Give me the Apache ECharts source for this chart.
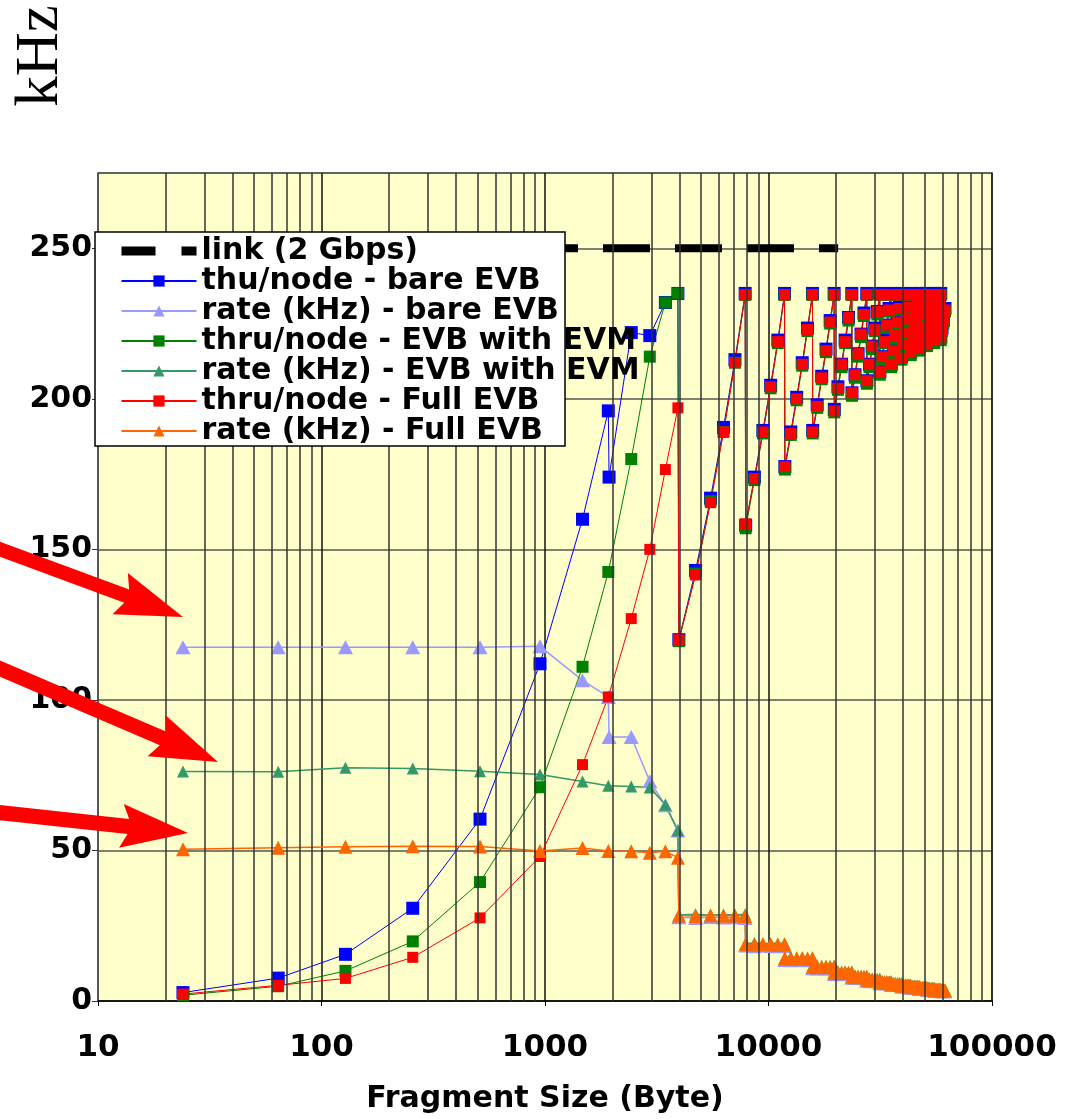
<!DOCTYPE html>
<html><head><meta charset="utf-8">
<script src="https://cdn.jsdelivr.net/npm/echarts/dist/echarts.min.js"></script>
<style>html,body{margin:0;padding:0;background:#fff}#c{width:1080px;height:1119px}</style>
</head><body><div id="c"></div>
<script>
// ---------------- data ----------------
const xTickLabels = ['10', '100', '1000', '10000', '100000'];
const minorGridX = [20,30,40,50,60,70,80,90,200,300,400,500,600,700,800,900,
  2000,3000,4000,5000,6000,7000,8000,9000,20000,30000,40000,50000,60000,70000,80000,90000];

const linkSizes = [24, 20480];
const linkVals = [250, 250];

const thruBareSizes = [24, 64, 128, 256, 512, 950, 1472, 1920, 1935, 2432, 2944, 3456, 3932];
const thruBareVals  = [2.8, 7.6, 15.5, 30.8, 60.4, 112, 160, 196, 174, 222, 221, 232, 235];

const rateBareSizes = [24, 64, 128, 256, 512, 950, 1472, 1920, 1935, 2432, 2944, 3456, 3932];
const rateBareVals  = [117.5, 117.5, 117.5, 117.5, 117.5, 117.8, 106.5, 101, 87.7, 87.7, 73, 65, 56.6];

const thruEvmSizes = [24, 64, 128, 256, 512, 950, 1472, 1920, 2432, 2944, 3456, 3932];
const thruEvmVals  = [1.9, 4.9, 10, 19.8, 39.5, 71, 111, 142.5, 180, 214, 232, 235];

const rateEvmSizes = [24, 64, 128, 256, 512, 950, 1472, 1920, 2432, 2944, 3456, 3932];
const rateEvmVals  = [76.2, 76.1, 77.5, 77.2, 76.3, 75.2, 72.9, 71.5, 71.2, 70.9, 65.2, 56.6];

const thruFullSizes = [24, 64, 128, 256, 512, 950, 1472, 1920, 2432, 2944, 3456, 3932];
const thruFullVals  = [2.3, 5.2, 7.5, 14.5, 27.6, 48, 78.5, 101, 127, 150, 176.5, 197];

const rateFullSizes = [24, 64, 128, 256, 512, 950, 1472, 1920, 2432, 2944, 3456, 3932];
const rateFullVals  = [50.4, 50.9, 51.2, 51.4, 51.3, 49.8, 50.8, 49.8, 49.7, 49.2, 49.7, 47.6];

// large fragments (shared size grid)
const denseSizes = [
  3972, 4718, 5505, 6291, 7078, 7864,
  7904, 8650, 9437, 10223, 11010, 11796,
  11836, 12582, 13369, 14155, 14942, 15728,
  15768, 16514, 17301, 18087, 18874, 19660,
  19700, 20446, 21233, 22019, 22806, 23592,
  23632, 24378, 25165, 25951, 26738, 27524,
  27564, 28310, 29097, 29883, 30670, 31456,
  31496, 32242, 33029, 33815, 34602, 35388,
  35428, 36174, 36961, 37747, 38534, 39320,
  39360, 40106, 40893, 41679, 42466, 43252,
  43292, 44038, 44825, 45611, 46398, 47184,
  47224, 47970, 48757, 49543, 50330, 51116,
  51156, 51902, 52689, 53475, 54262, 55048,
  55088, 55834, 56621, 57407, 58194, 58980,
  59020, 59766, 60553, 61601];

const thruBareDense = [
  120, 143, 167, 190.5, 213, 235,
  158, 174, 189.5, 204.5, 219.5, 235,
  177.5, 189, 200.5, 212, 223.5, 235,
  189.5, 198, 207.5, 216.5, 226, 235,
  196.5, 204, 211.5, 219.5, 227, 235,
  202, 208, 215, 221.5, 228.5, 235,
  206, 211.5, 217.5, 223.5, 229, 235,
  209, 214, 219.5, 224.5, 230, 235,
  211.5, 216, 221, 225.5, 230.5, 235,
  214, 218, 222, 226.5, 230.5, 235,
  215.5, 219.5, 223, 227, 231, 235,
  217, 220.5, 224, 228, 231.5, 235,
  218.5, 221.5, 225, 228.5, 231.5, 235,
  219.5, 222.5, 225.5, 228.5, 232, 235,
  220.5, 223.5, 226, 230];

const thruEvmDense = [
  119.5, 142, 166, 189, 212, 234.5,
  157, 173, 188.5, 203.5, 218.5, 234.5,
  176.5, 188, 199.5, 211, 222.5, 234.5,
  188.5, 197, 206.5, 215.5, 225, 234.5,
  195.5, 203, 210.5, 218.5, 226, 234.5,
  201, 207, 214, 220.5, 227.5, 234.5,
  205, 210.5, 216.5, 222.5, 228, 234.5,
  208, 213, 218.5, 223.5, 229, 234.5,
  210.5, 215, 220, 224.5, 229.5, 234.5,
  213, 217, 221, 225.5, 229.5, 234.5,
  214.5, 218.5, 222, 226, 230, 234.5,
  216, 219.5, 223, 227, 230.5, 234.5,
  217.5, 220.5, 224, 227.5, 230.5, 234.5,
  218.5, 221.5, 224.5, 227.5, 231, 234.5,
  219.5, 222.5, 225, 229];

const thruFullDense = [
  120, 141.5, 165.5, 189, 212, 234.5,
  158.5, 173.5, 189, 204, 219, 234.5,
  177.5, 188.5, 200, 211.5, 223, 234.5,
  189, 197.5, 207, 216, 225.5, 234.5,
  196, 203.5, 211.5, 219, 227, 234.5,
  202, 208, 215, 221.5, 228, 234.5,
  206, 211.5, 217.5, 223, 229, 234.5,
  209, 214, 219, 224.5, 229.5, 234.5,
  211.5, 216, 221, 225.5, 230, 234.5,
  213.5, 218, 222, 226.5, 230.5, 234.5,
  215.5, 219, 223, 227, 231, 234.5,
  217, 220.5, 224, 228, 231, 234.5,
  218, 221.5, 225, 228, 231.5, 234.5,
  219.5, 222.5, 225.5, 228.5, 231.5, 234.5,
  220.5, 223, 226, 229.5];

const rateBareDense = [
  27.8, 27.6, 27.9, 27.7, 27.8, 27.6,
  18.4, 18.2, 18.4, 18.3, 18.2, 18.3,
  13.6, 13.5, 13.7, 13.6, 13.5, 13.6,
  10.9, 10.8, 11.0, 10.9, 10.8, 10.9,
  9.0, 9.1, 8.9, 9.0, 9.1, 9.0,
  7.7, 7.8, 7.6, 7.7, 7.8, 7.7,
  6.7, 6.8, 6.6, 6.7, 6.8, 6.7,
  5.9, 6.0, 5.9, 5.9, 6.0, 5.9,
  5.3, 5.4, 5.3, 5.3, 5.4, 5.3,
  4.8, 4.9, 4.8, 4.8, 4.9, 4.8,
  4.4, 4.5, 4.4, 4.4, 4.5, 4.4,
  4.0, 4.1, 4.0, 4.0, 4.1, 4.0,
  3.7, 3.8, 3.7, 3.7, 3.8, 3.7,
  3.4, 3.5, 3.4, 3.4, 3.5, 3.4,
  3.2, 3.3, 3.2, 3.2];

const rateEvmDense = [
  28.6, 28.8, 28.5, 28.7, 28.6, 28.8,
  19.1, 19.3, 19.0, 19.2, 19.1, 19.2,
  14.4, 14.6, 14.3, 14.5, 14.4, 14.5,
  11.6, 11.8, 11.5, 11.7, 11.6, 11.7,
  9.7, 9.9, 9.6, 9.8, 9.7, 9.8,
  8.3, 8.5, 8.2, 8.4, 8.3, 8.4,
  7.3, 7.5, 7.2, 7.4, 7.3, 7.4,
  6.5, 6.7, 6.4, 6.6, 6.5, 6.6,
  5.9, 6.0, 5.8, 5.9, 6.0, 5.9,
  5.4, 5.5, 5.3, 5.4, 5.5, 5.4,
  4.9, 5.1, 4.9, 5.0, 5.1, 5.0,
  4.6, 4.7, 4.5, 4.6, 4.7, 4.6,
  4.3, 4.4, 4.2, 4.3, 4.4, 4.3,
  4.0, 4.1, 3.9, 4.0, 4.1, 4.0,
  3.8, 3.9, 3.7, 3.8];

const rateFullDense = [
  28.4, 28.2, 28.5, 28.3, 28.4, 28.2,
  18.9, 18.7, 18.9, 18.8, 18.7, 18.8,
  14.2, 14.0, 14.2, 14.1, 14.0, 14.1,
  11.4, 11.2, 11.4, 11.3, 11.2, 11.3,
  9.5, 9.3, 9.5, 9.4, 9.3, 9.4,
  8.1, 7.9, 8.1, 8.0, 7.9, 8.0,
  7.1, 6.9, 7.1, 7.0, 6.9, 7.0,
  6.3, 6.1, 6.3, 6.2, 6.1, 6.2,
  5.7, 5.5, 5.7, 5.6, 5.5, 5.6,
  5.2, 5.0, 5.2, 5.1, 5.0, 5.1,
  4.8, 4.6, 4.8, 4.7, 4.6, 4.7,
  4.4, 4.2, 4.4, 4.3, 4.2, 4.3,
  4.1, 3.9, 4.1, 4.0, 3.9, 4.0,
  3.8, 3.6, 3.8, 3.7, 3.6, 3.7,
  3.6, 3.4, 3.6, 3.5];

const seriesNames = ['link (2 Gbps)', 'thu/node - bare EVB', 'rate (kHz) - bare EVB',
  'thru/node - EVB with EVM', 'rate (kHz) - EVB with EVM', 'thru/node - Full EVB', 'rate (kHz) - Full EVB'];

// ---------------- build ----------------
function zip(xs, ys) { return xs.map((x, i) => [x, ys[i]]); }
const FONT = '"DejaVu Sans", Verdana, sans-serif';

function arrow(tail, tip, w, headLen, headW) {
  const dx = tip[0] - tail[0], dy = tip[1] - tail[1];
  const L = Math.hypot(dx, dy), ux = dx / L, uy = dy / L, nx = -uy, ny = ux;
  const bx = tip[0] - ux * headLen, by = tip[1] - uy * headLen;
  return {
    type: 'polygon', zlevel: 1, z: 20, silent: true,
    shape: { points: [
      [tail[0] + nx * w / 2, tail[1] + ny * w / 2],
      [bx + nx * w / 2, by + ny * w / 2],
      [bx + nx * headW / 2 - ux * 7, by + ny * headW / 2 - uy * 7],
      tip,
      [bx - nx * headW / 2 - ux * 7, by - ny * headW / 2 - uy * 7],
      [bx - nx * w / 2, by - ny * w / 2],
      [tail[0] - nx * w / 2, tail[1] - ny * w / 2]
    ] },
    style: { fill: '#FF0000' }
  };
}

const legendData = seriesNames.map((n, i) => i === 0
  ? { name: n, itemStyle: { opacity: 0 }, lineStyle: { color: '#000', width: 9, type: [46, 26], opacity: 1 } }
  : { name: n });

const chart = echarts.init(document.getElementById('c'));
const option = {
  animation: false,
  backgroundColor: '#ffffff',
  grid: { left: 98, right: 88, top: 173, bottom: 116, show: true,
          backgroundColor: '#FFFFCC', borderColor: '#666', borderWidth: 1.5 },
  xAxis: {
    type: 'log', logBase: 10, min: 10, max: 100000,
    name: 'Fragment Size (Byte)', nameLocation: 'middle', nameGap: 83,
    nameTextStyle: { fontFamily: FONT, fontWeight: 'bold', fontSize: 30, color: '#000' },
    axisLine: { show: true, lineStyle: { color: '#000', width: 1.5 } },
    axisTick: { show: true, length: 5, lineStyle: { color: '#000' } },
    axisLabel: { margin: 31, fontFamily: FONT, fontWeight: 'bold', fontSize: 31, color: '#000',
      formatter: v => { const s = String(Math.round(v)); return xTickLabels.includes(s) ? s : ''; } },
    splitLine: { show: true, lineStyle: { color: '#111', width: 1.5 } }
  },
  yAxis: {
    type: 'value', min: 0, max: 275, interval: 50,
    axisLine: { show: true, lineStyle: { color: '#666', width: 1.5 } },
    axisTick: { show: true, length: 6, lineStyle: { color: '#333' } },
    axisLabel: { margin: 6, showMaxLabel: false, fontFamily: FONT, fontWeight: 'bold', fontSize: 30, color: '#000' },
    splitLine: { show: true, lineStyle: { color: '#555', width: 1.5 } }
  },
  legend: {
    data: legendData, orient: 'vertical', left: 117, top: 236, padding: 0,
    zlevel: 1, z: 4,
    itemWidth: 75, itemHeight: 14, itemGap: 0, selectedMode: false,
    textStyle: { fontFamily: FONT, fontWeight: 'bold', fontSize: 30, color: '#000', lineHeight: 29.5 }
  },
  graphic: { zlevel: 1, z: 3, elements: [
    { type: 'rect', zlevel: 1, z: 3, silent: true, shape: { x: 95, y: 232, width: 470, height: 214 },
      style: { fill: '#ffffff', stroke: '#000', lineWidth: 1.5 } },
    { type: 'text', zlevel: 1, z: 20, x: 41, y: 56, rotation: Math.PI / 2, silent: true,
      style: { text: 'kHz', font: '61px "Liberation Serif", "DejaVu Serif", serif', fill: '#000',
               textAlign: 'center', textVerticalAlign: 'middle' } },
    arrow([-6, 547], [183, 617], 14, 60, 44),
    arrow([-6, 666], [218, 762], 15, 60, 45),
    arrow([-6, 812], [188, 833], 15, 60, 44)
  ] },
  series: [
    { name: 'grid', type: 'line', z: 1, data: [], silent: true,
      markLine: { silent: true, symbol: ['none', 'none'], label: { show: false }, animation: false,
        lineStyle: { color: '#333', width: 1.5, type: 'solid' },
        emphasis: { disabled: true },
        data: minorGridX.map(v => ({ xAxis: v })) } },
    { name: seriesNames[0], type: 'line', data: zip(linkSizes, linkVals), symbol: 'none',
      lineStyle: { color: '#000', width: 8, type: [47, 25], dashOffset: 12 }, itemStyle: { color: '#000' } },
    { name: seriesNames[1], type: 'line', data: zip(thruBareSizes.concat(denseSizes), thruBareVals.concat(thruBareDense)),
      symbol: 'rect', symbolSize: 13, lineStyle: { color: '#0000FF', width: 1 }, itemStyle: { color: '#0000FF' } },
    { name: seriesNames[2], type: 'line', data: zip(rateBareSizes.concat(denseSizes), rateBareVals.concat(rateBareDense)),
      symbol: 'triangle', symbolSize: [15, 14], lineStyle: { color: '#9999FF', width: 1.5 }, itemStyle: { color: '#9999FF' } },
    { name: seriesNames[3], type: 'line', data: zip(thruEvmSizes.concat(denseSizes), thruEvmVals.concat(thruEvmDense)),
      symbol: 'rect', symbolSize: 12, lineStyle: { color: '#008000', width: 1 }, itemStyle: { color: '#008000' } },
    { name: seriesNames[4], type: 'line', data: zip(rateEvmSizes.concat(denseSizes), rateEvmVals.concat(rateEvmDense)),
      symbol: 'triangle', symbolSize: [12, 12], lineStyle: { color: '#339966', width: 1.5 }, itemStyle: { color: '#339966' } },
    { name: seriesNames[5], type: 'line', data: zip(thruFullSizes.concat(denseSizes), thruFullVals.concat(thruFullDense)),
      symbol: 'rect', symbolSize: 11, lineStyle: { color: '#FF0000', width: 1 }, itemStyle: { color: '#FF0000' } },
    { name: seriesNames[6], type: 'line', data: zip(rateFullSizes.concat(denseSizes), rateFullVals.concat(rateFullDense)),
      symbol: 'triangle', symbolSize: [14, 14], lineStyle: { color: '#FF6600', width: 1.5 }, itemStyle: { color: '#FF6600' } }
  ]
};
chart.setOption(option);
</script></body></html>
